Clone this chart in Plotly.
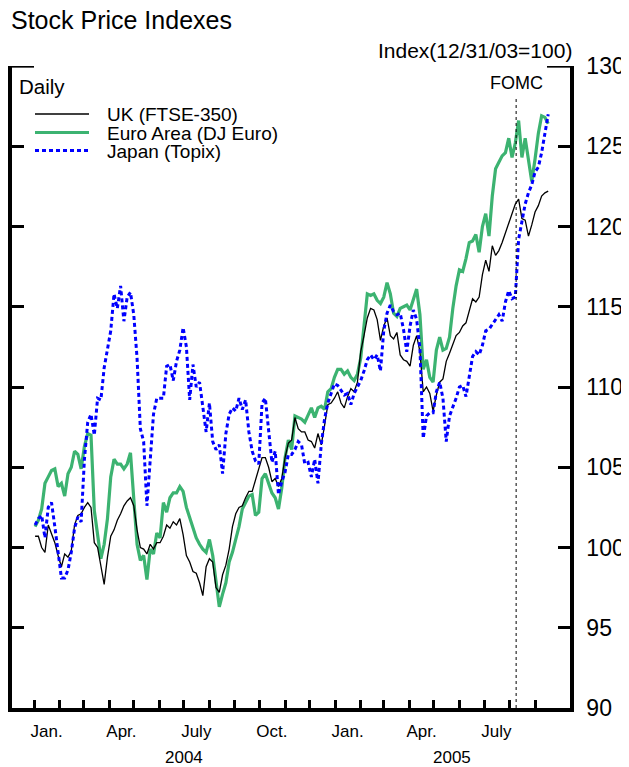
import pandas as pd
import plotly.graph_objects as go

# ---------------- data ----------------
# sampling grid: every 4 calendar days from 2 Jan 2004 to 17 Sep 2005
dates = pd.date_range("2004-01-02", periods=157, freq="4D")

uk_ftse350 = [
    100.7, 100.7, 100.0, 99.7, 101.4, 100.9, 100.3, 99.5, 98.8, 99.6,
    99.4, 99.8, 101.4, 102.0, 102.1, 102.5, 102.8, 102.5, 100.3, 100.0,
    98.9, 97.7, 99.4, 100.7, 101.1, 101.7, 102.1, 102.6, 102.9, 103.1,
    102.6, 101.1, 100.0, 99.9, 99.6, 100.2, 99.9, 100.3, 100.3, 100.7,
    101.4, 101.2, 101.6, 101.4, 101.8, 100.8, 99.5, 99.1, 98.5, 98.4,
    97.8, 97.0, 98.8, 99.3, 99.1, 97.5, 97.2, 98.3, 98.9, 99.9,
    101.3, 102.1, 102.5, 102.6, 103.1, 103.5, 103.5, 104.2, 105.0, 105.6,
    105.6, 105.0, 104.1, 104.3, 103.8, 104.3, 105.6, 106.5, 106.7, 108.1,
    107.4, 107.2, 107.2, 106.7, 106.6, 106.2, 107.1, 106.4, 107.6, 108.9,
    109.0, 109.3, 109.7, 109.0, 108.7, 109.4, 109.9, 109.7, 110.3, 112.2,
    113.2, 114.3, 114.9, 114.8, 114.2, 112.9, 113.8, 114.3, 113.2, 113.0,
    113.4, 112.0, 111.7, 111.6, 111.3, 112.6, 113.2, 112.2, 109.7, 110.0,
    109.6, 108.5, 109.5, 110.3, 110.5, 111.6, 112.1, 112.6, 113.2, 113.4,
    113.8, 114.0, 114.7, 115.5, 115.3, 115.6, 117.0, 117.9, 117.2, 118.8,
    118.2, 118.5, 119.0, 119.6, 120.2, 120.9, 121.4, 121.7, 120.5, 120.4,
    119.4, 120.1, 120.9, 121.3, 121.9, 122.1, 122.2,
]

euro_dj = [
    101.3, 101.7, 102.4, 104.0, 104.4, 104.8, 104.9, 103.8, 104.0, 103.2,
    104.6, 105.0, 106.0, 105.8, 104.9, 106.3, 107.1, 107.0, 102.3, 100.6,
    99.3, 100.2, 101.8, 104.4, 105.5, 105.2, 105.2, 104.9, 105.2, 105.9,
    103.2, 100.2, 99.2, 99.5, 98.0, 99.9, 99.6, 100.9, 100.6, 102.8,
    102.2, 103.1, 103.4, 103.4, 103.8, 103.5, 102.5, 101.9, 101.3, 100.6,
    100.2, 99.9, 99.7, 100.5, 99.5, 97.9, 96.3, 97.1, 97.8, 99.1,
    99.7, 100.5, 101.3, 102.4, 102.8, 103.2, 103.3, 102.0, 102.2, 104.3,
    104.6, 104.0, 103.4, 103.1, 102.4, 103.7, 105.6, 106.7, 106.1, 108.2,
    108.1, 108.0, 107.8, 108.2, 108.7, 108.1, 108.7, 108.8, 108.6, 109.7,
    109.9, 110.6, 111.1, 111.1, 110.8, 111.0, 110.6, 110.4, 110.8, 111.8,
    114.0, 115.8, 115.7, 115.8, 115.4, 115.2, 115.6, 116.5, 115.8, 114.6,
    114.4, 114.9, 115.0, 115.1, 114.8, 115.4, 116.1, 114.5, 111.1, 111.7,
    110.6, 110.3, 112.3, 113.1, 112.3, 112.4, 113.1, 114.9, 116.3, 117.3,
    117.2, 118.0, 119.0, 119.1, 119.5, 118.4, 120.0, 120.8, 119.4, 121.9,
    123.6, 124.0, 124.4, 124.6, 125.5, 124.3, 125.2, 126.6, 124.3, 125.5,
    124.0, 122.8, 124.2, 125.8, 126.9, 126.8, 126.4,
]

japan_topix = [
    101.4, 101.8, 102.0, 100.6, 102.5, 102.8, 101.3, 99.8, 98.1, 98.1,
    98.6, 99.7, 101.2, 101.9, 101.6, 105.5, 107.8, 108.3, 107.0, 109.3,
    109.2, 111.2, 112.5, 113.5, 115.8, 114.9, 116.3, 114.1, 115.6, 115.9,
    114.5, 111.8, 107.4, 106.6, 102.6, 105.5, 108.3, 109.3, 109.3, 109.3,
    111.3, 111.4, 110.4, 111.6, 112.3, 113.7, 112.5, 109.2, 111.4, 110.0,
    110.3, 108.7, 107.2, 109.0, 106.6, 106.1, 106.4, 104.6, 107.1, 108.3,
    108.7, 108.5, 109.3, 108.6, 109.2, 107.2, 106.0, 105.4, 105.2, 109.0,
    109.3, 107.3, 105.3, 106.0, 103.3, 104.1, 104.7, 105.8, 105.8, 106.1,
    106.6, 106.4, 105.2, 105.3, 104.4, 105.5, 104.0, 106.4, 108.0, 109.0,
    109.6, 110.2, 110.1, 109.8, 109.5, 109.6, 108.9, 109.6, 110.0, 110.4,
    111.0, 111.7, 112.0, 111.7, 112.0, 111.0, 113.5, 114.6, 115.1, 114.7,
    114.5, 114.6, 113.6, 112.2, 113.8, 114.8, 114.2, 112.4, 106.8, 108.2,
    108.4, 108.4, 109.7, 110.3, 109.3, 106.6, 108.2, 108.7, 109.3, 110.0,
    110.1, 109.4, 110.8, 111.9, 112.2, 112.0, 112.6, 113.5, 113.6, 113.9,
    114.2, 114.5, 114.1, 115.3, 116.0, 115.5, 115.6, 119.2, 120.3, 121.4,
    122.1, 122.6, 123.4, 123.7, 124.6, 125.9, 127.0,
]

series_names = ["UK (FTSE-350)", "Euro Area (DJ Euro)", "Japan (Topix)"]
month_label_dates = ["2004-01-16", "2004-04-16", "2004-07-16", "2004-10-16",
                     "2005-01-16", "2005-04-16", "2005-07-16"]
month_labels = ["Jan.", "Apr.", "July", "Oct.", "Jan.", "Apr.", "July"]
month_tick_dates = pd.date_range("2004-01-01", "2005-09-01", freq="MS")
year_labels = ["2004", "2005"]
year_label_dates = ["2004-07-01", "2005-05-23"]
y_ticks = [90, 95, 100, 105, 110, 115, 120, 125, 130]
fomc_date = "2005-08-09"

# ---------------- styling / layout ----------------
# the page body has an 8px margin, so the figure is 8px smaller than the window
OFF = 8
W, H = 629 - OFF, 767 - OFF
ML, MR, MT, MB = 12 - OFF, 59, 66 - OFF, 59
PW, PH = W - ML - MR, H - MT - MB
FONT = "Liberation Sans, Arial, Helvetica, sans-serif"
GREEN = "#3CB371"
BLUE = "#0000FF"


def xp(page_px):
    return (page_px - OFF - ML) / PW


def yp(page_py):
    return (H - MB - (page_py - OFF)) / PH


fig = go.Figure()
fig.add_trace(go.Scatter(x=dates, y=euro_dj, mode="lines", name=series_names[1],
                         line=dict(color=GREEN, width=3.2), showlegend=False))
fig.add_trace(go.Scatter(x=dates, y=uk_ftse350, mode="lines", name=series_names[0],
                         line=dict(color="black", width=1.3), showlegend=False))
fig.add_trace(go.Scatter(x=dates, y=japan_topix, mode="lines", name=series_names[2],
                         line=dict(color=BLUE, width=3, dash="4px,3px"), showlegend=False))

annotations = []
annotations.append(dict(text="Stock Price Indexes", x=xp(9), y=yp(20), xanchor="left",
                        yanchor="middle", font=dict(size=25)))
annotations.append(dict(text="Index(12/31/03=100)", x=xp(574), y=yp(51), xanchor="right",
                        yanchor="middle", font=dict(size=21)))
annotations.append(dict(text="Daily", x=xp(17), y=yp(87), xanchor="left",
                        yanchor="middle", font=dict(size=20.5)))
legend_rows = [(series_names[0], 114, dict(color="black", width=1.3)),
               (series_names[1], 132.5, dict(color=GREEN, width=3.2)),
               (series_names[2], 150.5, dict(color=BLUE, width=3, dash="4px,3px"))]
shapes = []
for name, cy, ln in legend_rows:
    annotations.append(dict(text=name, x=xp(105), y=yp(cy + 1), xanchor="left",
                            yanchor="middle", font=dict(size=19)))
    shapes.append(dict(type="line", xref="paper", yref="paper", x0=xp(35), x1=xp(89),
                       y0=yp(cy), y1=yp(cy), line=ln))
annotations.append(dict(text="FOMC", x=fomc_date, xref="x", y=yp(83), xanchor="center",
                        yanchor="middle", font=dict(size=18)))
for t, d in zip(year_labels, year_label_dates):
    annotations.append(dict(text=t, x=d, xref="x", y=yp(758), xanchor="center",
                            yanchor="middle", font=dict(size=17)))
for a in annotations:
    a.setdefault("xref", "paper")
    a["yref"] = "paper"
    a["showarrow"] = False

# FOMC dashed line
shapes.append(dict(type="line", xref="x", yref="paper", x0=fomc_date, x1=fomc_date,
                   y0=0, y1=yp(97), line=dict(color="black", width=1, dash="3px,3px")))
# top stubs at 130
for x0, x1 in [(8.5, 34), (547, 573)]:
    shapes.append(dict(type="line", xref="paper", yref="y", x0=xp(x0), x1=xp(x1),
                       y0=130, y1=130, line=dict(color="black", width=3.3)))

fig.update_layout(
    width=W, height=H, autosize=False,
    margin=dict(l=ML, r=MR, t=MT, b=MB, pad=0, autoexpand=False),
    paper_bgcolor="white", plot_bgcolor="white",
    font=dict(family=FONT, color="black"),
    showlegend=False,
    annotations=annotations,
    shapes=shapes,
    xaxis=dict(
        type="date", automargin=False,
        range=["2003-12-04 22:00", "2005-10-13 12:00"],
        showgrid=False, zeroline=False,
        showline=True, linecolor="black", linewidth=3.5, mirror=False,
        tickmode="array", tickvals=month_label_dates, ticktext=month_labels,
        ticks="", tickfont=dict(size=17), ticklabelstandoff=5,
        minor=dict(tickmode="array", tickvals=list(month_tick_dates), ticks="inside",
                   ticklen=8, tickwidth=2.5, tickcolor="black", showgrid=False),
    ),
    yaxis=dict(
        range=[90, 130], side="right", automargin=False,
        showgrid=False, zeroline=False,
        showline=True, linecolor="black", linewidth=3.5, mirror="ticks",
        tickmode="array", tickvals=y_ticks,
        ticks="inside", ticklen=12, tickwidth=3.3, tickcolor="black",
        tickfont=dict(size=23), ticklabelstandoff=8,
    ),
)

fig.write_html("out.html")
